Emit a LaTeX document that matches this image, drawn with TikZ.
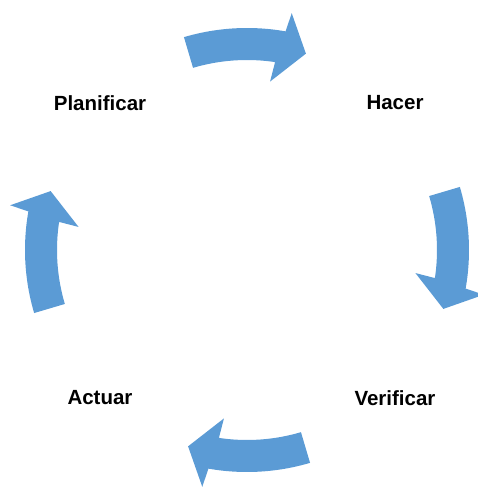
\documentclass[tikz,border=0pt]{standalone}
\usepackage{fontspec}
\setmainfont{Liberation Sans}
\usepackage{xcolor}
\usetikzlibrary{positioning}
\definecolor{arrowblue}{HTML}{5B9BD5}

\begin{document}
\begin{tikzpicture}[x=1pt, y=1pt, label/.style={font=\fontsize{20.5}{24}\selectfont\bfseries, inner sep=0pt}]
\useasboundingbox (-247,-237) rectangle (230,250);

% the four curved block arrows, turned a quarter each time
\foreach \a in {0,-90,-180,-270}
  \fill[arrowblue, rotate=\a] (106.5:222pt) arc[start angle=106.5, end angle=80, radius=222pt]
    -- (79.3:241pt) -- (73.3:205pt) -- (82.2:170pt) -- (81.5:190pt)
    arc[start angle=81.5, end angle=106.5, radius=190pt] -- cycle;

\node[label] (plan) at (-147,147) {Planificar};
\node[label] (hacer) at (148,147) {Hacer};
\node[label] (verif) at (148,-148) {Verificar};
\node[label] (actuar) at (-147,-148) {Actuar};
\end{tikzpicture}
\end{document}
